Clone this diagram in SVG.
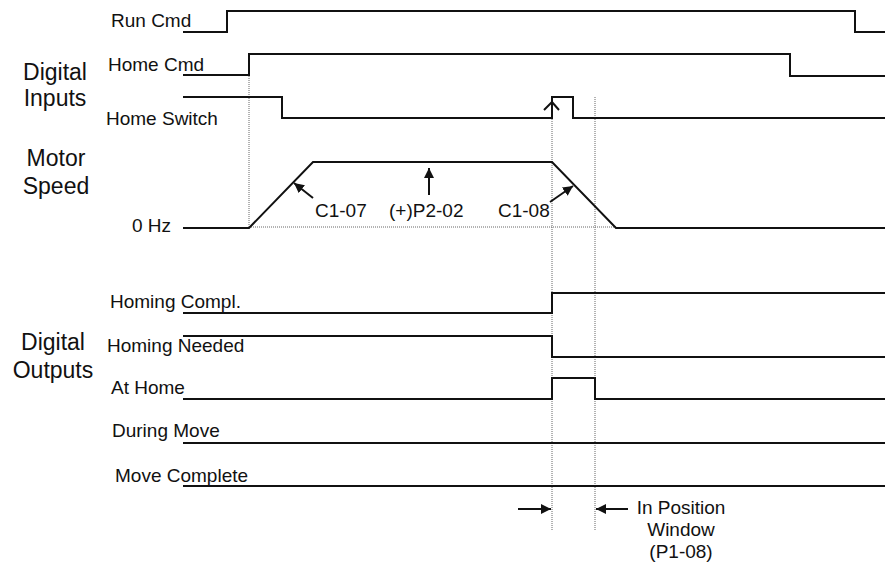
<svg xmlns="http://www.w3.org/2000/svg" width="885" height="562" viewBox="0 0 885 562">
<style>
text{font-family:"Liberation Sans",Arial,sans-serif;fill:#111}
.s{font-size:19px}
.b{font-size:23px}
.sig{fill:none;stroke:#111;stroke-width:2}
.dot{fill:none;stroke:#666;stroke-width:1;stroke-dasharray:1 1}
.arr{fill:none;stroke:#111;stroke-width:2}
</style>
<defs>
<marker id="ah" viewBox="0 0 10 10" refX="10" refY="5" markerWidth="5" markerHeight="5" orient="auto" markerUnits="strokeWidth">
<path d="M0,0 L10,5 L0,10 z" fill="#111"/>
</marker>
</defs>
<rect width="885" height="562" fill="#fff"/>
<g id="group-labels">
<text class="b" x="55" y="80" text-anchor="middle">Digital</text>
<text class="b" x="55" y="106" text-anchor="middle">Inputs</text>
<text class="b" x="56" y="166" text-anchor="middle">Motor</text>
<text class="b" x="56" y="194" text-anchor="middle">Speed</text>
<text class="b" x="53" y="350" text-anchor="middle">Digital</text>
<text class="b" x="53" y="378" text-anchor="middle">Outputs</text>
</g>
<g id="guides">
<line class="dot" x1="249" y1="76" x2="249" y2="227"/>
<line class="dot" x1="249" y1="227" x2="616" y2="227"/>
<line class="dot" x1="552" y1="97" x2="552" y2="530"/>
<line class="dot" x1="595" y1="97" x2="595" y2="530"/>
</g>
<g id="run-cmd">
<text class="s" x="111" y="27">Run Cmd</text>
<polyline class="sig" points="183,32 227,32 227,11 855,11 855,32 885,32"/>
</g>
<g id="home-cmd">
<text class="s" x="108" y="71">Home Cmd</text>
<polyline class="sig" points="183,75 249,75 249,54 790,54 790,76 885,76"/>
</g>
<g id="home-switch">
<text class="s" x="106" y="125">Home Switch</text>
<polyline class="sig" points="183,97 282,97 282,118 552,118 552,97 573,97 573,118 885,118"/>
<polyline class="sig" points="544,110 552,102 559,110"/>
</g>
<g id="motor-speed">
<text class="s" x="132" y="232">0 Hz</text>
<polyline class="sig" points="183,228 249,228 313,162 552,162 616,228 885,228"/>
<text class="s" x="315" y="217">C1-07</text>
<text class="s" x="389" y="217">(+)P2-02</text>
<text class="s" x="498" y="217">C1-08</text>
</g>
<g id="homing-compl">
<text class="s" x="110" y="308">Homing Compl.</text>
<polyline class="sig" points="183,313 552,313 552,293 885,293"/>
</g>
<g id="homing-needed">
<text class="s" x="107" y="352">Homing Needed</text>
<polyline class="sig" points="183,336 552,336 552,357 885,357"/>
</g>
<g id="at-home">
<text class="s" x="111" y="394">At Home</text>
<polyline class="sig" points="183,399 552,399 552,378 595,378 595,399 885,399"/>
</g>
<g id="during-move">
<text class="s" x="112" y="437">During Move</text>
<line class="sig" x1="183" y1="443" x2="885" y2="443"/>
</g>
<g id="move-complete">
<text class="s" x="115" y="482">Move Complete</text>
<line class="sig" x1="183" y1="486" x2="885" y2="486"/>
</g>
<g id="window-label">
<text class="s" x="681" y="514" text-anchor="middle">In Position</text>
<text class="s" x="681" y="536" text-anchor="middle">Window</text>
<text class="s" x="681" y="558" text-anchor="middle">(P1-08)</text>
</g>
<g id="connectors">
<line class="arr" x1="313" y1="198" x2="294" y2="183" marker-end="url(#ah)"/>
<line class="arr" x1="429" y1="195" x2="429" y2="168" marker-end="url(#ah)"/>
<line class="arr" x1="550" y1="202" x2="573" y2="186" marker-end="url(#ah)"/>
<line class="arr" x1="518" y1="509" x2="551" y2="509" marker-end="url(#ah)"/>
<line class="arr" x1="628" y1="509" x2="596" y2="509" marker-end="url(#ah)"/>
</g>
</svg>
